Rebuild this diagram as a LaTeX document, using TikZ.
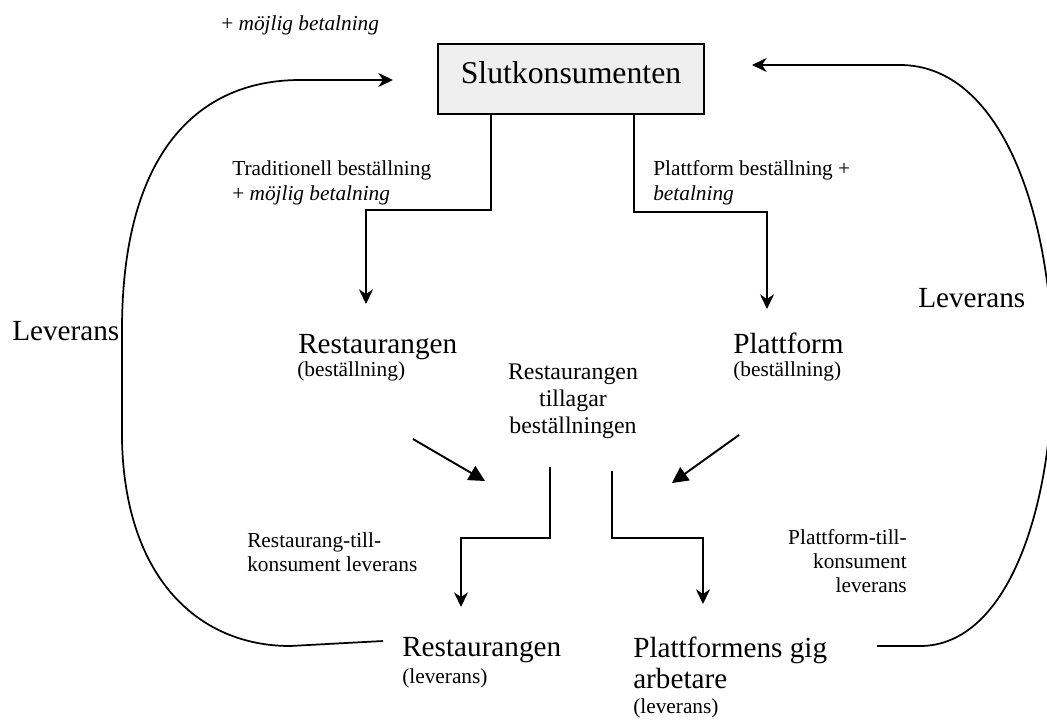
\documentclass[tikz,border=0pt]{standalone}
\usepackage{fontspec}
\setmainfont{Liberation Serif}
\usetikzlibrary{arrows.meta}
\begin{document}
\begin{tikzpicture}[x=0.75pt,y=-0.75pt,
  conn/.style={line width=1.45pt,-{Stealth[length=11pt,width=10.5pt,inset=3.5pt]}},
  diag/.style={line width=1.45pt,-{Triangle[length=12pt,width=12pt]}},
  loop/.style={line width=1.3pt,-{Stealth[length=11pt,width=10.5pt,inset=3.5pt]}},
  txt/.style={inner sep=0pt,anchor=base west},
  big/.style={txt,font=\fontsize{21.9pt}{23.25pt}\selectfont},
  small/.style={txt,font=\fontsize{16pt}{18.75pt}\selectfont},
  mid/.style={inner sep=0pt,anchor=base,align=center,font=\fontsize{17.9pt}{20.25pt}\selectfont},
  box/.style={draw,line width=1.45pt,fill={rgb,255:red,239;green,239;blue,239},minimum width=200pt,minimum height=52.5pt,
    text height=15.75pt,text depth=9.75pt,inner sep=0pt,font=\fontsize{23.8pt}{26pt}\selectfont}]
\useasboundingbox (0,0) rectangle (1047,719);
\fill[white] (0,0) rectangle (1047,719);
\clip (0,0) rectangle (1047,719);

% texts (base anchor of a multi-line node = baseline of its last line)
\node[small] (topnote) at (221,30) {+ \textit{möjlig betalning}};
\node[box] (sk) at (571,79) {Slutkonsumenten};
\node[small,align=left] (trad) at (232,200) {Traditionell beställning\\+ \textit{möjlig betalning}};
\node[small,align=left] (plat) at (653,200) {Plattform beställning +\\\textit{betalning}};
\node[big] (restB) at (298,353) {Restaurangen};
\node[small] (restBsub) at (297,376) {(beställning)};
\node[big] (platB) at (733,353) {Plattform};
\node[small] (platBsub) at (733,376) {(beställning)};
\node[mid] (mid) at (573,433) {Restaurangen\\tillagar\\beställningen};
\node[small,align=left,font=\fontsize{16pt}{18pt}\selectfont] (rtk) at (247,571) {Restaurang-till-\\konsument leverans};
\node[small,anchor=base east,align=right,font=\fontsize{16pt}{18pt}\selectfont] (ptk) at (907,592) {Plattform-till-\\konsument\\leverans};
\node[big] (restL) at (402,656) {Restaurangen};
\node[small] (restLsub) at (402,683) {(leverans)};
\node[big,align=left] (gig) at (633,688) {Plattformens gig\\arbetare};
\node[small] (gigsub) at (633,713) {(leverans)};
\node[big] (levL) at (12,340) {Leverans};
\node[big] (levR) at (918,307) {Leverans};

% coordinates
\coordinate (a1e) at (366,304);
\coordinate (a2e) at (767,309);
\coordinate (a3s) at (550,467);
\coordinate (a3e) at (461,607);
\coordinate (a4s) at (612,471);
\coordinate (a4e) at (703,604);
\coordinate (d1s) at (413,439);
\coordinate (d1e) at (485,481);
\coordinate (d2s) at (739,435);
\coordinate (d2e) at (672,483);
\coordinate (lls) at (383,641);
\coordinate (lle) at (393,80);
\coordinate (rls) at (877,646);
\coordinate (rle) at (752,65);

% connectors
\draw[conn] (sk.south -| 491,0) |- (429,210) -| (a1e);
\draw[conn] (sk.south -| 634,0) |- (700,212) -| (a2e);
\draw[conn] (a3s) |- (500,538) -| (a3e);
\draw[conn] (a4s) |- (650,538) -| (a4e);
\draw[diag] (d1s) -- (d1e);
\draw[diag] (d2s) -- (d2e);

\draw[loop] (lls) -- (290,646) .. controls (200,646) and (125,580) .. (122,440)
  -- (122,330) .. controls (122,150) and (200,80) .. (300,80) -- (lle);
\draw[loop] (rls) -- (920,646) .. controls (1100,646) and (1100,65) .. (900,65) -- (rle);
\end{tikzpicture}
\end{document}
